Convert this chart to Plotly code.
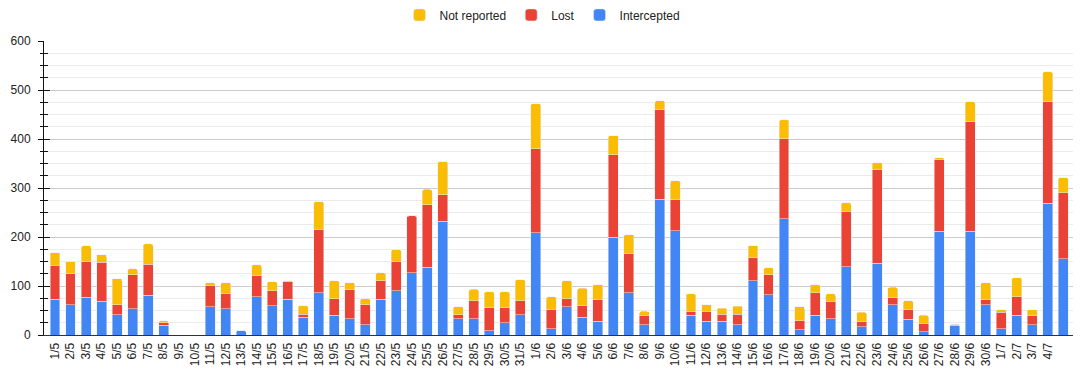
import plotly.graph_objects as go

dates = ["1/5","2/5","3/5","4/5","5/5","6/5","7/5","8/5","9/5","10/5",
         "11/5","12/5","13/5","14/5","15/5","16/5","17/5","18/5","19/5","20/5",
         "21/5","22/5","23/5","24/5","25/5","26/5","27/5","28/5","29/5","30/5","31/5",
         "1/6","2/6","3/6","4/6","5/6","6/6","7/6","8/6","9/6","10/6",
         "11/6","12/6","13/6","14/6","15/6","16/6","17/6","18/6","19/6","20/6",
         "21/6","22/6","23/6","24/6","25/6","26/6","27/6","28/6","29/6","30/6",
         "1/7","2/7","3/7","4/7",""]

intercepted = [73,62,77,69,41,54,81,20,0,0,
               58,54,9,78,60,73,36,86,40,33,
               21,73,90,127,138,232,33,33,9,25,41,
               209,13,58,36,28,199,86,21,277,213,
               40,28,28,21,111,82,237,11,40,33,
               139,17,146,62,32,7,212,20,212,62,
               13,40,21,269,156]
lost = [69,63,73,79,21,69,63,5,0,0,
        43,30,0,43,30,36,6,129,34,59,
        41,38,60,116,128,54,8,37,47,31,29,
        171,39,16,24,44,169,80,19,183,63,
        8,20,14,21,47,41,164,18,46,35,
        113,10,191,14,20,17,146,2,223,10,
        33,38,18,207,134]
not_reported = [26,25,32,16,53,12,42,4,0,0,
                6,23,0,22,19,2,18,57,37,15,
                12,16,24,0,31,68,17,23,32,32,43,
                92,26,37,35,31,39,39,8,18,39,
                36,14,13,17,24,14,38,29,17,16,
                18,19,15,21,18,16,4,0,41,35,
                6,39,13,61,31]

x_idx = list(range(len(dates)))
FONT = "Liberation Sans, Arial, sans-serif"

fig = go.Figure()
fig.add_trace(go.Bar(x=x_idx, y=intercepted, name="Intercepted", marker_color="#4285F4"))
fig.add_trace(go.Bar(x=x_idx, y=lost, name="Lost", marker_color="#EA4335"))
fig.add_trace(go.Bar(x=x_idx, y=not_reported, name="Not reported", marker_color="#FBBC04"))

fig.update_layout(
    width=1082, height=363,
    margin=dict(l=36, r=17, t=33, b=36, autoexpand=False),
    barmode="stack", bargap=0.36, barcornerradius=2,
    paper_bgcolor="white", plot_bgcolor="white",
    font=dict(family=FONT, size=12, color="#222222"),
    legend=dict(orientation="h", x=0.494, xanchor="center", y=0.981, yanchor="middle",
                yref="container", xref="container", traceorder="reversed",
                font=dict(size=12, color="#222222")),
    xaxis=dict(
        tickmode="array", tickvals=x_idx, ticktext=dates, tickangle=-90,
        range=[-0.71, len(dates) - 0.37],
        showline=True, linecolor="#333333", linewidth=1,
        showgrid=False, zeroline=False, ticks="", ticklabelstandoff=2,
        tickfont=dict(size=12, color="#222222"),
    ),
    yaxis=dict(
        range=[0, 600], dtick=100, tick0=0,
        showline=True, linecolor="#111111", linewidth=1,
        ticks="outside", ticklen=5, tickcolor="#111111", tickwidth=1,
        showgrid=True, gridcolor="#cccccc", gridwidth=1, zeroline=False,
        ticklabelstandoff=5,
        minor=dict(dtick=25, ticks="outside", ticklen=3, tickcolor="#111111",
                   showgrid=True, gridcolor="#ebebeb"),
        tickfont=dict(size=12, color="#222222"),
    ),
    yaxis2=dict(
        overlaying="y", side="left", anchor="x", range=[0, 600], dtick=100, tick0=0,
        ticks="inside", ticklen=6, tickcolor="#111111", tickwidth=1,
        showticklabels=False, showgrid=False, showline=False, zeroline=False,
        minor=dict(dtick=25, ticks="inside", ticklen=4, tickcolor="#111111", showgrid=False),
    ),
)
fig.add_trace(go.Scatter(x=[0], y=[0], yaxis="y2", mode="markers",
                         marker=dict(opacity=0), showlegend=False, hoverinfo="skip"))

fig.write_html("out.html")
